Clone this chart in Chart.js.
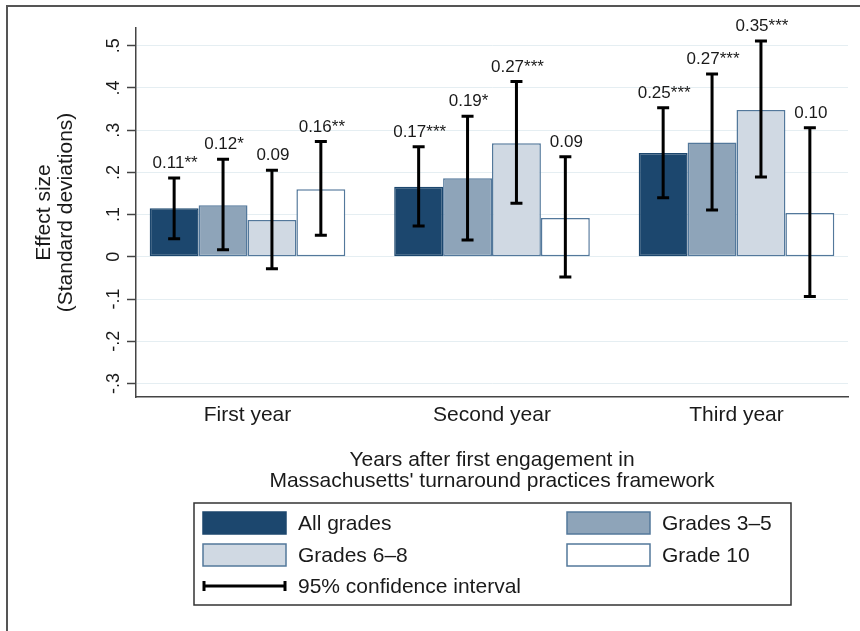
<!DOCTYPE html>
<html>
<head>
<meta charset="utf-8">
<script src="https://cdn.jsdelivr.net/npm/chart.js@4.4.1/dist/chart.umd.min.js"></script>
<style>
  html, body { margin: 0; padding: 0; background: #fff; }
  canvas { display: block; }
</style>
</head>
<body>
<canvas id="chart" width="860" height="631"></canvas>
<script>
// categories
const years = ['First year', 'Second year', 'Third year'];
const seriesNames = ['All grades', 'Grades 3–5', 'Grades 6–8', 'Grade 10'];

// point estimates (effect size, SD)
const allGrades  = [0.115, 0.166, 0.246];
const grades3to5 = [0.122, 0.186, 0.271];
const grades6to8 = [0.087, 0.269, 0.348];
const grade10    = [0.160, 0.092, 0.104];

// 95% confidence intervals
const allGradesLow   = [0.043, 0.073, 0.140];
const allGradesHigh  = [0.187, 0.261, 0.353];
const grades3to5Low  = [0.017, 0.040, 0.111];
const grades3to5High = [0.231, 0.333, 0.433];
const grades6to8Low  = [-0.028, 0.127, 0.189];
const grades6to8High = [0.205, 0.415, 0.511];
const grade10Low     = [0.051, -0.048, -0.094];
const grade10High    = [0.273, 0.237, 0.306];

// printed labels
const allGradesText  = ['0.11**', '0.17***', '0.25***'];
const grades3to5Text = ['0.12*', '0.19*', '0.27***'];
const grades6to8Text = ['0.09', '0.27***', '0.35***'];
const grade10Text    = ['0.16**', '0.09', '0.10'];

// y axis ticks
const yTicks = [-0.3, -0.2, -0.1, 0, 0.1, 0.2, 0.3, 0.4, 0.5];
const yTickLabels = ['-.3', '-.2', '-.1', '0', '.1', '.2', '.3', '.4', '.5'];

const ciLabel = '95% confidence interval';

const FONT = '"Liberation Sans", Arial, sans-serif';
const TEXT = '#1a1a1a';
const fills = ['#1c476e', '#8ea4b9', '#d0d9e3', '#ffffff'];
const borders = ['#1c476e', '#53789b', '#53789b', '#53789b'];

Chart.defaults.font.family = FONT;
Chart.defaults.color = TEXT;

const values = [allGrades, grades3to5, grades6to8, grade10];
const lows = [allGradesLow, grades3to5Low, grades6to8Low, grade10Low];
const highs = [allGradesHigh, grades3to5High, grades6to8High, grade10High];
const texts = [allGradesText, grades3to5Text, grades6to8Text, grade10Text];

// error bars, value labels, rotated y labels, legend, frame
const extras = {
    id: 'extras',
    beforeDraw(chart) {
        const ctx = chart.ctx;
        ctx.save();
        ctx.fillStyle = '#fff';
        ctx.fillRect(0, 0, chart.width, chart.height);
        ctx.restore();
    },
    afterDatasetsDraw(chart) {
        const ctx = chart.ctx;
        const ys = chart.scales.y;
        ctx.save();
        ctx.strokeStyle = '#000';
        ctx.lineWidth = 3;
        ctx.fillStyle = TEXT;
        ctx.font = '17px ' + FONT;
        ctx.textAlign = 'center';
        ctx.textBaseline = 'alphabetic';
        values.forEach((_, d) => {
            const meta = chart.getDatasetMeta(d);
            meta.data.forEach((el, i) => {
                const x = el.x;
                const yh = ys.getPixelForValue(highs[d][i]);
                const yl = ys.getPixelForValue(lows[d][i]);
                ctx.beginPath();
                ctx.moveTo(x, yh); ctx.lineTo(x, yl);
                ctx.moveTo(x - 6, yh); ctx.lineTo(x + 6, yh);
                ctx.moveTo(x - 6, yl); ctx.lineTo(x + 6, yl);
                ctx.stroke();
                ctx.fillText(texts[d][i], x + 1, yh - 10);
            });
        });
        ctx.restore();
    },
    afterDraw(chart) {
        const ctx = chart.ctx;
        const ys = chart.scales.y;
        ctx.save();

        // y tick labels, rotated like Stata
        ctx.fillStyle = TEXT;
        ctx.font = '18px ' + FONT;
        ctx.textAlign = 'center';
        ctx.textBaseline = 'middle';
        yTicks.forEach((v, i) => {
            ctx.save();
            ctx.translate(114, ys.getPixelForValue(v));
            ctx.rotate(-Math.PI / 2);
            ctx.fillText(yTickLabels[i], 0, 0);
            ctx.restore();
        });

        // legend
        ctx.strokeStyle = '#333';
        ctx.lineWidth = 1.5;
        ctx.strokeRect(194, 503, 597, 102);
        const colX = [203, 567];
        const rowY = [512, 544];
        ctx.font = '21px ' + FONT;
        ctx.textAlign = 'left';
        seriesNames.forEach((name, i) => {
            const x = colX[i % 2], y = rowY[Math.floor(i / 2)];
            ctx.fillStyle = fills[i];
            ctx.fillRect(x, y, 83, 22);
            ctx.strokeStyle = borders[i];
            ctx.lineWidth = 1.5;
            ctx.strokeRect(x, y, 83, 22);
            ctx.fillStyle = TEXT;
            ctx.fillText(name, x + 95, y + 12);
        });
        ctx.strokeStyle = '#000';
        ctx.lineWidth = 3;
        ctx.beginPath();
        ctx.moveTo(204, 586); ctx.lineTo(285, 586);
        ctx.moveTo(204, 581); ctx.lineTo(204, 591);
        ctx.moveTo(285, 581); ctx.lineTo(285, 591);
        ctx.stroke();
        ctx.fillStyle = TEXT;
        ctx.fillText(ciLabel, 298, 587);

        // outer frame
        ctx.strokeStyle = '#555';
        ctx.lineWidth = 2;
        ctx.beginPath();
        ctx.moveTo(7, chart.height);
        ctx.lineTo(7, 6);
        ctx.lineTo(chart.width, 6);
        ctx.stroke();
        ctx.restore();
    }
};

new Chart(document.getElementById('chart'), {
    type: 'bar',
    data: {
        datasets: values.map((vals, d) => ({
            label: seriesNames[d],
            data: vals.map((v, i) => ({ x: i, y: v })),
            backgroundColor: fills[d],
            borderColor: borders[d],
            borderWidth: 1.5,
            borderSkipped: false,
            categoryPercentage: 0.8,
            barPercentage: 1.0,
        })),
    },
    options: {
        responsive: false,
        animation: false,
        devicePixelRatio: 1,
        layout: { padding: { top: 28, right: 12, left: 0, bottom: 0 } },
        plugins: { legend: { display: false }, tooltip: { enabled: false } },
        scales: {
            x: {
                type: 'linear',
                offset: false,
                min: -0.456,
                max: 2.456,
                afterBuildTicks: s => { s.ticks = years.map((_, i) => ({ value: i })); },
                afterFit: s => { s.height = 234; },
                grid: { display: false, drawTicks: false, offset: false },
                border: { display: true, color: '#444', width: 1.5 },
                ticks: {
                    autoSkip: false, maxRotation: 0, padding: 6,
                    font: { size: 21 }, color: TEXT,
                    callback: v => years[v],
                },
                title: {
                    display: true,
                    text: ["Years after first engagement in", "Massachusetts' turnaround practices framework"],
                    font: { size: 21, lineHeight: 1.0 },
                    color: TEXT,
                    padding: { top: 0, bottom: 139.5 },
                },
            },
            y: {
                type: 'linear',
                min: -0.332,
                max: 0.542,
                afterBuildTicks: s => { s.ticks = yTicks.map(v => ({ value: v })); },
                afterFit: s => { s.width = 136; },
                grid: {
                    color: '#e5eef2', lineWidth: 1,
                    drawTicks: true, tickLength: 9, tickColor: '#444', tickWidth: 1.5,
                },
                border: { display: true, color: '#444', width: 1.5 },
                ticks: { display: false },
                title: {
                    display: true,
                    text: ['Effect size', '(Standard deviations)'],
                    font: { size: 21, lineHeight: 1.05 },
                    color: TEXT,
                    padding: { top: 33, bottom: 0 },
                },
            },
        },
    },
    plugins: [extras],
});
</script>
</body>
</html>
